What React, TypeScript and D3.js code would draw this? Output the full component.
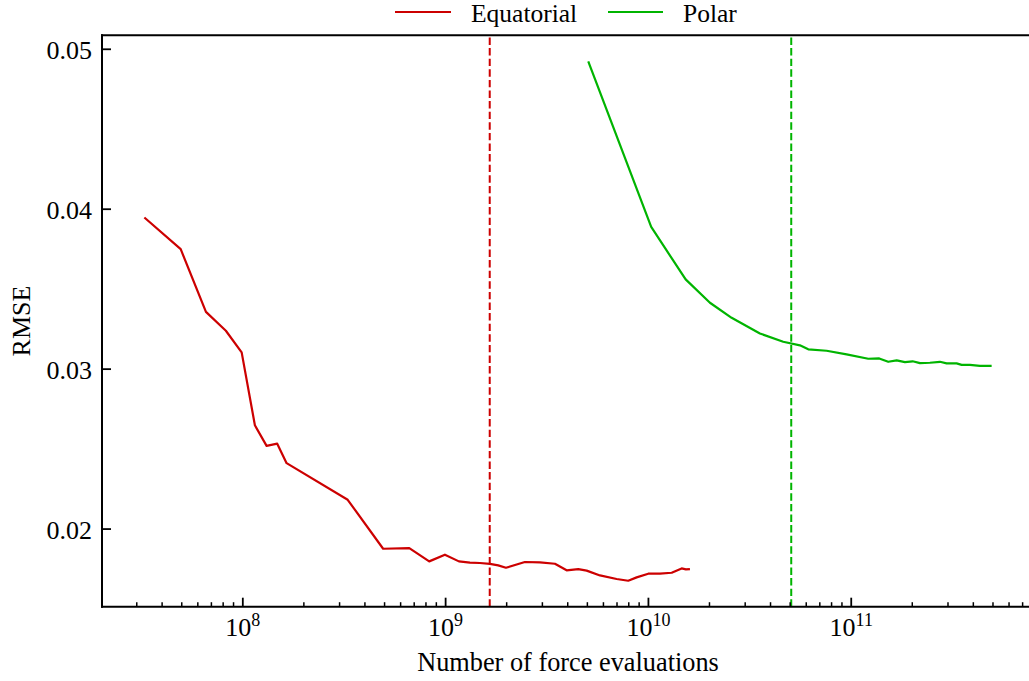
import React from "react";
import * as d3 from "d3";

const eqX = [3.27e7, 4.94e7, 6.58e7, 8.25e7, 9.87e7, 1.147e8, 1.31e8, 1.478e8, 1.644e8, 3.29e8, 4.92e8, 6.62e8, 8.3e8, 9.92e8, 1.163e9, 1.318e9, 1.476e9, 1.654e9, 1.817e9, 1.983e9, 2.46e9, 2.917e9, 3.46e9, 3.95e9, 4.51e9, 4.96e9, 5.77e9, 6.97e9, 7.95e9, 8.75e9, 9.98e9, 1.14e10, 1.302e10, 1.458e10, 1.53e10, 1.602e10];
const eqY = [0.03948, 0.0375, 0.03358, 0.0324, 0.03105, 0.02649, 0.0252, 0.02534, 0.02412, 0.02183, 0.01877, 0.01881, 0.01798, 0.0184, 0.01798, 0.0179, 0.01788, 0.01782, 0.01773, 0.01758, 0.01794, 0.01792, 0.01783, 0.01742, 0.0175, 0.0174, 0.0171, 0.01688, 0.01677, 0.01698, 0.01721, 0.01721, 0.01727, 0.01754, 0.01748, 0.0175];

const polX = [5.05e9, 1.032e10, 1.526e10, 2.011e10, 2.572e10, 3.546e10, 4.62e10, 5.585e10, 6.14e10, 7.56e10, 9.49e10, 1.213e11, 1.374e11, 1.522e11, 1.675e11, 1.84e11, 2.008e11, 2.182e11, 2.443e11, 2.737e11, 2.954e11, 3.309e11, 3.503e11, 3.85e11, 4.31e11, 4.924e11];
const polY = [0.04925, 0.03889, 0.03561, 0.03415, 0.03321, 0.03223, 0.03171, 0.03149, 0.03124, 0.03115, 0.03092, 0.03065, 0.03067, 0.03046, 0.03055, 0.03044, 0.03049, 0.03038, 0.0304, 0.03046, 0.03036, 0.03036, 0.03027, 0.03027, 0.03021, 0.03021];

const vLines = [1.65e9, 5.06e10];
const seriesNames = ["Equatorial", "Polar"];
const seriesColors = ["#cc0000", "#00b400"];
const yTicks = [0.02, 0.03, 0.04, 0.05];
const xMajorExp = [8, 9, 10, 11];

const W = 1029, H = 681;
const L = 102, R = 1034, T = 35.3, B = 606.7;
const FONT = "'Liberation Serif', 'DejaVu Serif', serif";

export default function App() {
  const allX = [...eqX, ...polX];
  const allY = [...eqY, ...polY];
  const lx0 = Math.log10(d3.min(allX)!), lx1 = Math.log10(d3.max(allX)!);
  const mx = (lx1 - lx0) * 0.05;
  const x = d3.scaleLog().domain([10 ** (lx0 - mx), 10 ** (lx1 + mx)]).range([L, R]);
  const y0 = d3.min(allY)!, y1 = d3.max(allY)!;
  const my = (y1 - y0) * 0.05;
  const y = d3.scaleLinear().domain([y0 - my, y1 + my]).range([B, T]);

  const line = d3.line<[number, number]>().x(d => x(d[0])).y(d => y(d[1]));
  const eqData = eqX.map((v, i) => [v, eqY[i]] as [number, number]);
  const polData = polX.map((v, i) => [v, polY[i]] as [number, number]);

  const [dx0, dx1] = x.domain();
  const minor: number[] = [];
  for (let e = 7; e <= 11; e++) {
    for (let k = 2; k <= 9; k++) {
      const v = k * 10 ** e;
      if (v > dx0 && v < dx1) minor.push(v);
    }
  }

  return (
    <div style={{ position: "absolute", left: 0, top: 0 }}>
      <svg width={W} height={H} style={{ display: "block", background: "#fff" }} fontFamily={FONT}>
        <rect x={0} y={0} width={W} height={H} fill="#fff" />
        {/* data lines */}
        <path d={line(eqData)!} fill="none" stroke={seriesColors[0]} strokeWidth={2.2} strokeLinejoin="round" />
        <path d={line(polData)!} fill="none" stroke={seriesColors[1]} strokeWidth={2.2} strokeLinejoin="round" />
        {vLines.map((v, i) => (
          <line key={i} x1={x(v)} x2={x(v)} y1={B} y2={T} stroke={seriesColors[i]} strokeWidth={2} strokeDasharray="7.4,3.2" />
        ))}
        {/* spines */}
        <line x1={L} x2={L} y1={T - 1} y2={B + 1} stroke="#000" strokeWidth={2} />
        <line x1={L - 1} x2={W} y1={B} y2={B} stroke="#000" strokeWidth={2} />
        <line x1={L - 1} x2={W} y1={T} y2={T} stroke="#000" strokeWidth={2} />
        {/* x ticks */}
        {minor.map((v, i) => (
          <line key={"m" + i} x1={x(v)} x2={x(v)} y1={B} y2={B - 4.5} stroke="#000" strokeWidth={1.5} />
        ))}
        {xMajorExp.map(e => (
          <g key={e}>
            <line x1={x(10 ** e)} x2={x(10 ** e)} y1={B} y2={B - 9} stroke="#000" strokeWidth={1.8} />
            <text x={x(10 ** e)} y={636} textAnchor="middle" fontSize={26} fill="#000">
              <tspan>10</tspan>
              <tspan dy={-10} fontSize={18}>{e}</tspan>
            </text>
          </g>
        ))}
        {/* y ticks */}
        {yTicks.map(v => (
          <g key={v}>
            <line x1={L} x2={L + 9} y1={y(v)} y2={y(v)} stroke="#000" strokeWidth={1.8} />
            <text x={L - 10} y={y(v) + 9.5} textAnchor="end" fontSize={26} fill="#000">{v.toFixed(2)}</text>
          </g>
        ))}
        {/* axis labels */}
        <text x={(L + R) / 2} y={671} textAnchor="middle" fontSize={26.3} fill="#000">Number of force evaluations</text>
        <text transform={`translate(30,${(T + B) / 2}) rotate(-90)`} textAnchor="middle" fontSize={26} fill="#000">RMSE</text>
        {/* legend */}
        <line x1={395} x2={451} y1={12} y2={12} stroke={seriesColors[0]} strokeWidth={2.2} />
        <text x={471} y={22} fontSize={25.5} fill="#000">{seriesNames[0]}</text>
        <line x1={608} x2={663} y1={12} y2={12} stroke={seriesColors[1]} strokeWidth={2.2} />
        <text x={683} y={22} fontSize={25.5} fill="#000">{seriesNames[1]}</text>
      </svg>
    </div>
  );
}
